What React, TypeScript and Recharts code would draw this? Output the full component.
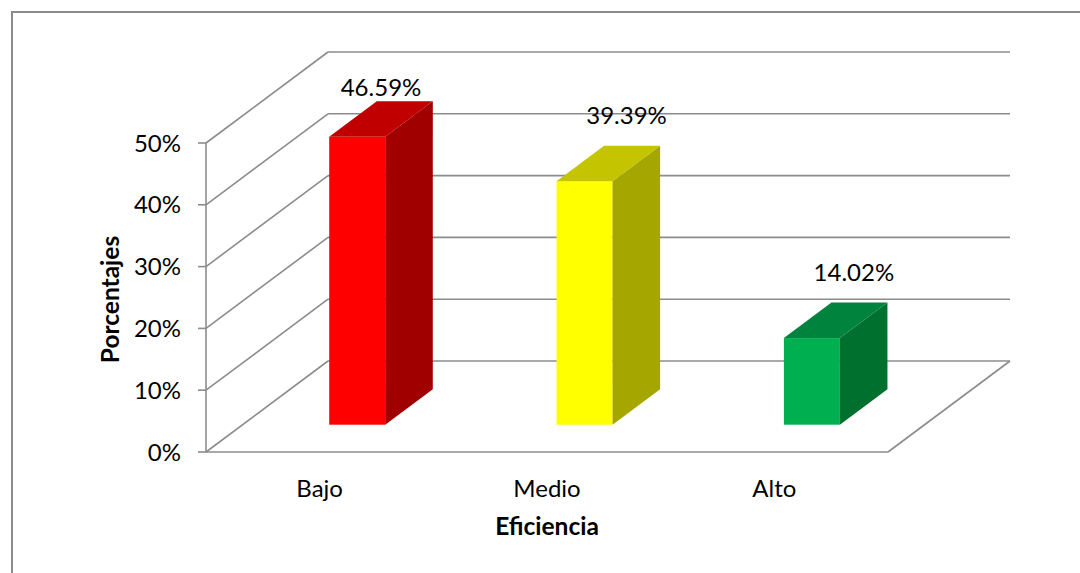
import React from "react";
import { BarChart, Bar, XAxis, YAxis, CartesianGrid, Cell } from "recharts";

const categories = ["Bajo", "Medio", "Alto"];
const values = [46.59, 39.39, 14.02];
const yTicks = [0, 10, 20, 30, 40, 50];
const frontColors = ["#FF0000", "#FFFF00", "#00B050"];
const topColors = ["#C00000", "#C4C400", "#00843D"];
const sideColors = ["#A00000", "#A6A600", "#00702F"];
const xTitle = "Eficiencia";
const yTitle = "Porcentajes";

const data = categories.map((c, i) => ({ name: c, value: values[i] }));

const W = 1080;
const H = 573;
const MARGIN = { top: 143, right: 192, bottom: 61, left: 126 };
const Y_AXIS_W = 80;
const X_AXIS_H = 60;
const PLOT_BOTTOM = H - MARGIN.bottom - X_AXIS_H;
const FONT = "Lato, 'Open Sans', sans-serif";
const FS = 24;
const GRID = "#8C8C8C";

// 3D projection offsets
const DX = 122;
const DY = -91;
const OX = DX * 0.305;
const OY = DY * 0.3;
const BDX = DX * 0.39;
const BDY = DY * 0.39;

const renderGridLine = (p: any) => {
  const { x1, x2, y1 } = p;
  const isFloor = Math.abs(y1 - PLOT_BOTTOM) < 1;
  return (
    <g key={p.key ?? `gl-${p.index}`}>
      <line x1={x1} y1={y1} x2={x1 + DX} y2={y1 + DY} stroke={GRID} strokeWidth={1.6} />
      <line x1={x1 + DX} y1={y1 + DY} x2={x2 + DX} y2={y1 + DY} stroke={GRID} strokeWidth={1.6} />
      {isFloor && (
        <line x1={x2} y1={y1} x2={x2 + DX} y2={y1 + DY} stroke={GRID} strokeWidth={1.6} />
      )}
    </g>
  );
};

const Bar3D = (props: any) => {
  const { x, y, width, height, index, value } = props;
  const fx = x + OX;
  const fy = y + OY;
  const w = width;
  const h = height;
  const top = `${fx},${fy} ${fx + w},${fy} ${fx + w + BDX},${fy + BDY} ${fx + BDX},${fy + BDY}`;
  const side = `${fx + w},${fy} ${fx + w + BDX},${fy + BDY} ${fx + w + BDX},${fy + h + BDY} ${fx + w},${fy + h}`;
  const v = Array.isArray(value) ? value[1] - value[0] : value;
  const topBack = fy + BDY;
  let lx = fx + w / 2 + 42;
  let ly = topBack - 22;
  const minY = MARGIN.top - 47;
  if (ly < minY) {
    ly = minY;
    lx = fx + w / 2 + BDX / 2;
  }
  return (
    <g>
      <rect x={fx} y={fy} width={w} height={h} fill={frontColors[index]} />
      <polygon points={side} fill={sideColors[index]} />
      <polygon points={top} fill={topColors[index]} />
      <text x={lx} y={ly} textAnchor="middle" fontFamily={FONT} fontSize={FS} fill="#000">
        {`${Number(v).toFixed(2)}%`}
      </text>
    </g>
  );
};

const XTick = (props: any) => {
  const { x, y, payload } = props;
  return (
    <text x={x} y={y + 43} textAnchor="middle" fontFamily={FONT} fontSize={FS} fill="#000">
      {payload.value}
    </text>
  );
};

const XTitle = (props: any) => {
  const vb = props.viewBox || {};
  return (
    <text x={vb.x + vb.width / 2} y={vb.y + 83} textAnchor="middle" fontFamily={FONT} fontSize={24.5} fontWeight="bold" fill="#000">
      {xTitle}
    </text>
  );
};

const YTitle = (props: any) => {
  const vb = props.viewBox || {};
  const cx = vb.x - 7;
  const cy = vb.y + vb.height / 2 + 2;
  return (
    <text x={cx} y={cy} transform={`rotate(-90, ${cx}, ${cy})`} textAnchor="middle" fontFamily={FONT} fontSize={24.5} fontWeight="bold" fill="#000">
      {yTitle}
    </text>
  );
};

export default function App() {
  return (
    <div style={{ position: "absolute", left: 0, top: 0, width: W, height: H, overflow: "hidden", background: "#fff" }}>
      <div
        style={{
          position: "absolute",
          left: 11,
          top: 11,
          width: W + 50,
          height: H + 50,
          border: "2px solid #8C8C8C",
          boxSizing: "border-box",
        }}
      />
      <div style={{ position: "absolute", left: 0, top: 0 }}>
        <BarChart width={W} height={H} data={data} margin={MARGIN}>
          <CartesianGrid vertical={false} horizontal={renderGridLine} />
          <XAxis
            dataKey="name"
            height={X_AXIS_H}
            axisLine={{ stroke: GRID, strokeWidth: 1.6 }}
            tickLine={false}
            tickSize={0}
            tick={<XTick />}
            interval={0}
            label={<XTitle />}
          />
          <YAxis
            width={Y_AXIS_W}
            domain={[0, 50]}
            ticks={yTicks}
            interval={0}
            tickFormatter={(v: number) => `${v}%`}
            axisLine={{ stroke: GRID, strokeWidth: 1.6 }}
            tickLine={{ stroke: GRID, strokeWidth: 1.6 }}
            tickSize={8}
            tickMargin={17}
            tick={{ fontFamily: FONT, fontSize: FS, fill: "#000" }}
            label={<YTitle />}
          />
          <Bar dataKey="value" barSize={56} shape={<Bar3D />} isAnimationActive={false}>
            {data.map((d, i) => (
              <Cell key={d.name} fill={frontColors[i]} />
            ))}
          </Bar>
        </BarChart>
      </div>
    </div>
  );
}
